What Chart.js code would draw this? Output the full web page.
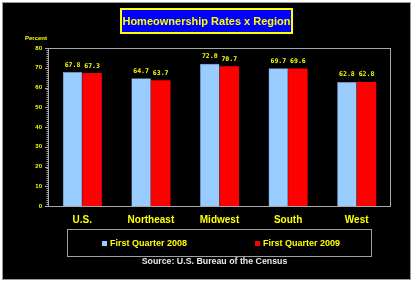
<!DOCTYPE html>
<html>
<head>
<meta charset="utf-8">
<script src="https://cdn.jsdelivr.net/npm/chart.js@4/dist/chart.umd.min.js"></script>
<style>
  html, body { margin: 0; padding: 0; background: #fff; }
  #wrap { width: 414px; height: 283px; position: relative; }
</style>
</head>
<body>
<div id="wrap"><canvas id="c"></canvas></div>
<script>
// chart data
const regions = ['U.S.', 'Northeast', 'Midwest', 'South', 'West'];
const q2008 = [67.8, 64.7, 72.0, 69.7, 62.8];
const q2009 = [67.3, 63.7, 70.7, 69.6, 62.8];
const seriesNames = ['First Quarter 2008', 'First Quarter 2009'];
const yTicks = [0, 10, 20, 30, 40, 50, 60, 70, 80];

const YELLOW = '#ffff00';
const FONT = '"Liberation Sans", Arial, sans-serif';

// frame, title box, legend box, source line, value labels
const decor = {
  id: 'decor',
  beforeDraw(chart) {
    const ctx = chart.ctx;
    ctx.save();
    ctx.fillStyle = '#fff';
    ctx.fillRect(0, 0, chart.width, chart.height);
    ctx.fillStyle = '#000';
    ctx.fillRect(2, 2, 409, 278);
    ctx.strokeStyle = '#9a9a9a';
    ctx.lineWidth = 1;
    ctx.strokeRect(2.5, 2.5, 408, 277);
    ctx.restore();
  },
  afterDraw(chart) {
    const ctx = chart.ctx;
    const area = chart.chartArea;
    const y = chart.scales.y;
    ctx.save();

    // title box
    ctx.fillStyle = '#0000ff';
    ctx.fillRect(120, 8, 173, 26);
    ctx.strokeStyle = YELLOW;
    ctx.lineWidth = 2;
    ctx.strokeRect(121, 9, 171, 24);
    ctx.fillStyle = YELLOW;
    ctx.font = 'bold 11px ' + FONT;
    ctx.textAlign = 'center';
    ctx.textBaseline = 'middle';
    ctx.fillText('Homeownership Rates x Region', 206.5, 21.5);

    // axis caption
    ctx.font = 'bold 6px ' + FONT;
    ctx.fillText('Percent', 36, 38);

    // plot border
    ctx.strokeStyle = '#a8a8a8';
    ctx.lineWidth = 1;
    ctx.strokeRect(Math.round(area.left) + 0.5, Math.round(area.top) + 0.5,
      Math.round(area.right - area.left) - 1, Math.round(area.bottom - area.top));

    // minor ticks along y axis
    ctx.beginPath();
    for (let v = 0; v <= 80; v += 1) {
      const py = Math.round(y.getPixelForValue(v)) + 0.5;
      const len = v % 10 === 0 ? 3 : 1.5;
      ctx.moveTo(area.left, py);
      ctx.lineTo(area.left - len, py);
    }
    ctx.stroke();

    // value labels
    ctx.fillStyle = YELLOW;
    ctx.font = 'bold 6.5px "DejaVu Sans Mono", monospace';
    ctx.textBaseline = 'bottom';
    chart.data.datasets.forEach((ds, i) => {
      chart.getDatasetMeta(i).data.forEach((bar, j) => {
        ctx.fillText(ds.data[j].toFixed(1), bar.x, bar.y - 4);
      });
    });

    // legend box
    ctx.strokeStyle = '#a0a0a0';
    ctx.strokeRect(67.5, 229.5, 304, 27);
    ctx.font = 'bold 9px ' + FONT;
    ctx.textAlign = 'left';
    ctx.textBaseline = 'middle';
    const legendX = [102, 255];
    chart.data.datasets.forEach((ds, i) => {
      ctx.fillStyle = ds.backgroundColor;
      ctx.fillRect(legendX[i], 241, 5, 5);
      ctx.fillStyle = YELLOW;
      ctx.fillText(ds.label, legendX[i] + 8, 243.5);
    });

    // source
    ctx.fillStyle = '#e8e8e8';
    ctx.textAlign = 'center';
    ctx.font = 'bold 8.8px ' + FONT;
    ctx.fillText('Source: U.S. Bureau of the Census', 214.5, 261.5);
    ctx.restore();
  }
};

new Chart(document.getElementById('c'), {
  type: 'bar',
  data: {
    labels: regions,
    datasets: [
      { label: seriesNames[0], data: q2008, backgroundColor: '#99ccff', borderColor: '#7fa8cc', borderWidth: 0.5 },
      { label: seriesNames[1], data: q2009, backgroundColor: '#ff0000', borderWidth: 0 }
    ]
  },
  options: {
    responsive: true,
    maintainAspectRatio: false,
    animation: false,
    devicePixelRatio: 1,
    layout: { padding: { top: 48, right: 23, bottom: 0, left: 0 } },
    datasets: { bar: { categoryPercentage: 0.57, barPercentage: 1 } },
    plugins: { legend: { display: false }, title: { display: false }, tooltip: { enabled: false } },
    scales: {
      x: {
        grid: { display: false, drawTicks: false },
        border: { display: false },
        ticks: { color: YELLOW, padding: 8, font: { family: FONT, size: 10, weight: 'bold' } },
        afterFit(scale) { scale.height = 77; }
      },
      y: {
        min: 0,
        max: 80,
        afterBuildTicks(scale) { scale.ticks = yTicks.map(v => ({ value: v })); },
        grid: { display: false, drawTicks: false },
        border: { display: false },
        ticks: { color: YELLOW, padding: 6, font: { family: FONT, size: 6, weight: 'bold' } },
        afterFit(scale) { scale.width = 48; }
      }
    }
  },
  plugins: [decor]
});
</script>
</body>
</html>
